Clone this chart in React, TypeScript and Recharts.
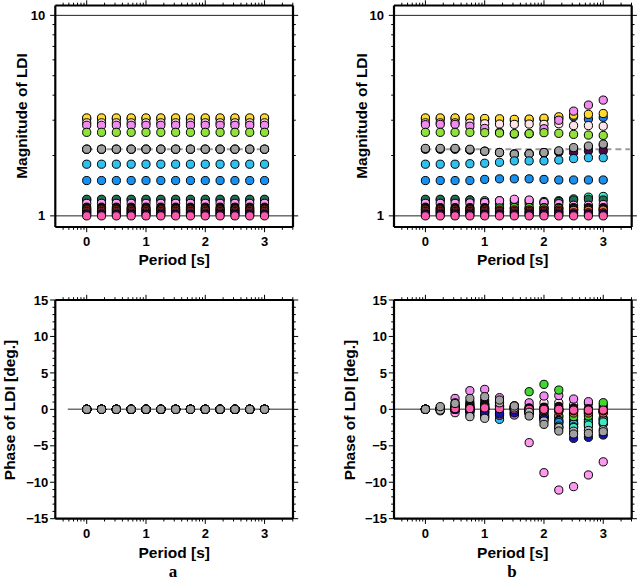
import React from 'react';
import { ScatterChart, Scatter, XAxis, YAxis, ReferenceLine } from 'recharts';

// ---------- data ----------
const periods = [0, 0.25, 0.5, 0.75, 1, 1.25, 1.5, 1.75, 2, 2.25, 2.5, 2.75, 3];

const xMajorTicks = [0, 1, 2, 3];
const xMinorTicks = [
  -0.398, -0.301, -0.222, -0.155, -0.097, -0.046,
  0.301, 0.477, 0.602, 0.699, 0.778, 0.845, 0.903, 0.954,
  1.301, 1.477, 1.602, 1.699, 1.778, 1.845, 1.903, 1.954,
  2.301, 2.477, 2.602, 2.699, 2.778, 2.845, 2.903, 2.954,
  3.301, 3.477,
];
const magMajorTicks = [1, 10];
const magMinorTicks = [2, 3, 4, 5, 6, 7, 8, 9];
const phaseMajorTicks = [-15, -10, -5, 0, 5, 10, 15];
const phaseMinorTicks = [
  -14, -13, -12, -11, -9, -8, -7, -6, -4, -3, -2, -1,
  1, 2, 3, 4, 6, 7, 8, 9, 11, 12, 13, 14,
];

const seriesKeys = [
  'blue2', 'yellow', 'mistyrose', 'violet', 'yellowgreen', 'silver', 'purple', 'gray',
  'deepskyblue', 'dodgerblue', 'aquamarine', 'teal', 'pink', 'black', 'green', 'red',
  'orange', 'crimson', 'navy', 'hotpink',
];
const seriesColors = [
  '#1C7CE8', '#FFD92E', '#FFE4EA', '#F08CF0', '#92E03C', '#B8B8B8', '#4A0A48', '#A0A0A0',
  '#30C0F0', '#1890F0', '#40E8C0', '#1E6E52', '#FF99F0', '#111111', '#40D830', '#E01020',
  '#FF6A30', '#E8204A', '#1414B0', '#FF5AAA',
];

// panel a: magnitude (constant for every period) and phase (zero)
const magnitudeA = [
  3.05, 3.08, 2.91, 2.83, 2.61, 2.15, 2.15, 2.15,
  1.81, 1.5, 1.2, 1.21, 1.155, 1.105, 1.08, 1.07,
  1.05, 1.035, 1.02, 1.0,
];
const phaseA = [0, 0, 0, 0, 0, 0, 0, 0, 0, 0, 0, 0, 0, 0, 0, 0, 0, 0, 0, 0];

// panel b: magnitude per series
const magB_blue2 = [3.05, 3.05, 3.05, 3.05, 3.03, 3.02, 3.0, 3.01, 3.04, 3.07, 3.12, 3.04, 3.1];
const magB_yellow = [3.08, 3.08, 3.08, 3.08, 3.06, 3.05, 3.03, 3.04, 3.07, 3.12, 3.18, 3.21, 3.24];
const magB_mistyrose = [2.91, 2.91, 2.91, 2.9, 2.88, 2.87, 2.86, 2.87, 2.86, 2.88, 2.82, 2.82, 2.8];
const magB_violet = [2.85, 2.86, 2.86, 2.8, 2.73, 2.61, 2.56, 2.57, 2.72, 3.0, 3.33, 3.57, 3.78];
const magB_yellowgreen = [2.61, 2.61, 2.61, 2.61, 2.6, 2.59, 2.57, 2.57, 2.6, 2.58, 2.55, 2.53, 2.52];
const magB_silver = [2.16, 2.16, 2.16, 2.14, 2.1, 2.07, 2.03, 2.04, 2.07, 2.1, 2.17, 2.2, 2.25];
const magB_purple = [2.15, 2.15, 2.15, 2.13, 2.1, 2.07, 2.04, 2.04, 2.06, 2.08, 2.07, 2.11, 2.11];
const magB_gray = [2.17, 2.17, 2.17, 2.15, 2.1, 2.07, 2.03, 2.04, 2.07, 2.11, 2.19, 2.23, 2.28];
const magB_deepskyblue = [1.81, 1.81, 1.81, 1.82, 1.83, 1.85, 1.88, 1.88, 1.88, 1.9, 1.93, 1.95, 1.95];
const magB_dodgerblue = [1.5, 1.5, 1.5, 1.5, 1.52, 1.53, 1.53, 1.53, 1.52, 1.51, 1.51, 1.51, 1.51];
const magB_aquamarine = [1.2, 1.2, 1.2, 1.2, 1.19, 1.19, 1.19, 1.19, 1.18, 1.19, 1.215, 1.24, 1.25];
const magB_teal = [1.21, 1.21, 1.21, 1.2, 1.17, 1.15, 1.15, 1.15, 1.16, 1.18, 1.2, 1.21, 1.2];
const magB_pink = [1.155, 1.155, 1.155, 1.16, 1.165, 1.19, 1.21, 1.2, 1.165, 1.15, 1.13, 1.13, 1.14];
const magB_black = [1.105, 1.1, 1.1, 1.1, 1.1, 1.09, 1.09, 1.09, 1.1, 1.1, 1.1, 1.1, 1.1];
const magB_green = [1.08, 1.08, 1.08, 1.08, 1.08, 1.095, 1.1, 1.1, 1.095, 1.09, 1.08, 1.08, 1.08];
const magB_red = [1.07, 1.07, 1.07, 1.07, 1.07, 1.07, 1.07, 1.07, 1.07, 1.07, 1.07, 1.07, 1.07];
const magB_orange = [1.05, 1.05, 1.05, 1.05, 1.05, 1.05, 1.05, 1.05, 1.05, 1.05, 1.065, 1.065, 1.07];
const magB_crimson = [1.035, 1.035, 1.035, 1.035, 1.035, 1.035, 1.035, 1.035, 1.035, 1.035, 1.035, 1.035, 1.035];
const magB_navy = [1.02, 1.02, 1.02, 1.02, 1.02, 1.02, 1.02, 1.02, 1.02, 1.02, 1.02, 1.02, 1.02];
const magB_hotpink = [1.0, 1.0, 1.0, 1.0, 1.0, 1.0, 1.0, 1.0, 1.0, 1.0, 1.0, 1.0, 1.0];

// panel b: phase per series
const phB_blue2 = [0, 0, 0.1, 0.2, 0.3, 0.2, 0.1, 0, -0.4, -1.0, -1.5, -1.4, -1.2];
const phB_yellow = [0, 0, 0, 0.1, 0.1, 0, 0, -0.3, -1.37, -1.83, -1.83, -1.6, -1.37];
const phB_mistyrose = [0, 0.1, 0.6, 0.7, 0.73, 0.46, 0.37, 0.37, 0.91, 0.91, 0.59, 0.82, -0.2];
const phB_violet = [0, 0.3, 1.5, 2.56, 2.74, 1.6, 0.5, 0.9, 1.83, 1.9, 1.42, 1.05, 0.6];
const phB_yellowgreen = [0, 0, 0.1, 0.1, 0.2, 0.2, 0.1, -0.3, -0.64, -0.91, -0.8, -0.6, -0.4];
const phB_silver = [0, -0.1, 0.9, -1.0, -1.23, 0.9, 0.2, -0.4, -1.6, -2.5, -3.0, -2.9, -2.8];
const phB_purple = [0, 0, 0.3, 0.5, 0.6, 0.5, 0.2, -0.2, -1.0, -1.5, -2.0, -2.0, -1.9];
const phB_gray = [0, 0.37, 0.8, 1.5, 1.74, 1.28, 0.46, -0.91, -2.06, -2.97, -3.38, -3.3, -3.07];
const phB_deepskyblue = [0, 0, -0.1, -0.4, -0.9, -1.37, -0.7, -0.5, -0.9, -1.6, -2.0, -1.8, -1.5];
const phB_dodgerblue = [0, 0, 0, -0.2, -0.5, -0.8, -0.5, -0.4, -1.0, -1.8, -2.4, -2.3, -2.0];
const phB_aquamarine = [0, 0, 0, -0.1, -0.3, -0.6, -0.4, -0.5, -1.1, -2.3, -2.5, -2.15, -1.74];
const phB_teal = [0, 0, 0.2, 0.4, 0.6, 0.5, 0.3, 0.2, 0.2, 0, -0.3, -0.4, -0.3];
const phB_pink = [0, -0.2, -0.46, -0.8, -1.0, -0.78, -0.78, -4.57, -8.69, -11.07, -10.6, -9.0, -7.2];
const phB_black = [0, 0.1, 0.4, 1.0, 1.2, 0.9, 0.3, 0.1, 0.3, 0.4, 0.2, 0.1, 0.2];
const phB_green = [0, 0, 0.1, 0.2, 0.3, 0.4, 0.3, 2.42, 3.43, 2.65, -1.0, -0.91, 0.91];
const phB_red = [0, 0, 0, 0, 0, 0, 0, 0, -0.1, -0.1, -0.2, -0.2, -0.2];
const phB_orange = [0, 0, 0, 0, 0, -0.1, -0.1, -0.1, -0.2, -0.3, -0.5, -0.5, -0.5];
const phB_crimson = [0, 0, 0, 0, 0, 0, 0, 0, 0, -0.1, -0.2, -0.2, -0.2];
const phB_navy = [0, 0, 0, -0.2, -0.5, -0.6, -0.5, -0.5, -1.3, -2.5, -3.98, -3.84, -3.52];
const phB_hotpink = [0, 0, 0.1, 0.1, 0.2, 0.1, 0, 0, 0, 0, -0.1, -0.1, -0.1];

const magnitudeB = [
  magB_blue2, magB_yellow, magB_mistyrose, magB_violet, magB_yellowgreen, magB_silver, magB_purple, magB_gray,
  magB_deepskyblue, magB_dodgerblue, magB_aquamarine, magB_teal, magB_pink, magB_black, magB_green, magB_red,
  magB_orange, magB_crimson, magB_navy, magB_hotpink,
];
const phaseB = [
  phB_blue2, phB_yellow, phB_mistyrose, phB_violet, phB_yellowgreen, phB_silver, phB_purple, phB_gray,
  phB_deepskyblue, phB_dodgerblue, phB_aquamarine, phB_teal, phB_pink, phB_black, phB_green, phB_red,
  phB_orange, phB_crimson, phB_navy, phB_hotpink,
];

// ---------- helpers ----------
const FONT = '"Liberation Sans", Arial, Helvetica, sans-serif';
const X_DOMAIN: [number, number] = [-0.53, 3.48];
const MAG_DOMAIN: [number, number] = [0.88, 11.2];
const PHASE_DOMAIN: [number, number] = [-15, 15];

const isIn = (v: number, arr: number[]) => arr.some((a) => Math.abs(a - v) < 1e-6);

const fmtNum = (v: number) => (v < 0 ? '\u2212' + Math.abs(v) : String(v));

const makeTick = (side: 'top' | 'bottom' | 'left' | 'right', majors: number[], showLabel: boolean, gap: number) =>
  (props: any) => {
    const { x, y, payload } = props;
    const v = payload.value;
    const major = isIn(v, majors);
    const len = major ? 5.2 : 2.8;
    let line: any = null;
    let label: any = null;
    if (side === 'bottom') {
      line = <line x1={x} y1={y} x2={x} y2={y + len} stroke="#000" strokeWidth={1} />;
      if (showLabel && major)
        label = (
          <text x={x} y={y + 19} textAnchor="middle" fontFamily={FONT} fontWeight="bold" fontSize={13} fill="#000">
            {fmtNum(v)}
          </text>
        );
    } else if (side === 'top') {
      line = <line x1={x} y1={y} x2={x} y2={y - len} stroke="#000" strokeWidth={1} />;
    } else if (side === 'left') {
      line = <line x1={x} y1={y} x2={x - len} y2={y} stroke="#000" strokeWidth={1} />;
      if (showLabel && major)
        label = (
          <text x={x - gap} y={y + 4.6} textAnchor="end" fontFamily={FONT} fontWeight="bold" fontSize={13} fill="#000">
            {fmtNum(v)}
          </text>
        );
    } else {
      line = <line x1={x} y1={y} x2={x + len} y2={y} stroke="#000" strokeWidth={1} />;
    }
    return (
      <g>
        {line}
        {label}
      </g>
    );
  };

const makeDot = (color: string) => (props: any) => {
  if (props.cx == null || props.cy == null) return <g />;
  return <circle cx={props.cx} cy={props.cy} r={4.1} fill={color} stroke="#000" strokeWidth={1} />;
};

const buildPoints = (values: number[]) => periods.map((p, i) => ({ x: p, y: values[i] }));

const allXTicks = [...xMajorTicks, ...xMinorTicks].sort((a, b) => a - b);
const allMagTicks = [...magMajorTicks, ...magMinorTicks].sort((a, b) => a - b);
const allPhaseTicks = [...phaseMajorTicks, ...phaseMinorTicks].sort((a, b) => a - b);

const magOrder = seriesKeys.map((_, i) => i);
const phaseOrder = [
  ...seriesKeys.map((_, i) => i).filter((i) => seriesKeys[i] !== 'gray' && seriesKeys[i] !== 'silver'),
  seriesKeys.indexOf('silver'),
  seriesKeys.indexOf('gray'),
];

type PanelProps = {
  left: number;
  top: number;
  width: number;
  height: number;
  plot: { top: number; right: number; bottom: number; left: number };
  kind: 'mag' | 'phase';
  panel: 'a' | 'b';
};

const AX = 1; // axis box thickness (must be > 0 for recharts to draw the axis)

const Panel = ({ left, top, width, height, plot, kind, panel }: PanelProps) => {
  const isMag = kind === 'mag';
  const yDomain = isMag ? MAG_DOMAIN : PHASE_DOMAIN;
  const yTicks = isMag ? allMagTicks : allPhaseTicks;
  const yMajors = isMag ? magMajorTicks : phaseMajorTicks;
  const yScale = isMag ? 'log' : 'linear';
  const order = isMag ? magOrder : phaseOrder;
  const gap = isMag ? 10 : 7;
  const margin = {
    top: plot.top - AX,
    right: plot.right - AX,
    bottom: plot.bottom - AX,
    left: plot.left - AX,
  };
  const axisLine = { stroke: '#000', strokeWidth: 2.2 };
  return (
    <div style={{ position: 'absolute', left, top, width, height }}>
      <ScatterChart width={width} height={height} margin={margin}>
        <XAxis
          xAxisId="b"
          dataKey="x"
          type="number"
          orientation="bottom"
          domain={X_DOMAIN}
          allowDataOverflow
          ticks={allXTicks}
          interval={0}
          height={AX}
          tickSize={0}
          tickMargin={0}
          tickLine={false}
          axisLine={axisLine}
          tick={makeTick('bottom', xMajorTicks, true, 0)}
        />
        <XAxis
          xAxisId="t"
          dataKey="x"
          type="number"
          orientation="top"
          domain={X_DOMAIN}
          allowDataOverflow
          ticks={allXTicks}
          interval={0}
          height={AX}
          tickSize={0}
          tickMargin={0}
          tickLine={false}
          axisLine={axisLine}
          tick={makeTick('top', xMajorTicks, false, 0)}
        />
        <YAxis
          yAxisId="l"
          dataKey="y"
          type="number"
          orientation="left"
          scale={yScale as any}
          domain={yDomain}
          allowDataOverflow
          ticks={yTicks}
          interval={0}
          width={AX}
          tickSize={0}
          tickMargin={0}
          tickLine={false}
          axisLine={axisLine}
          tick={makeTick('left', yMajors, true, gap)}
        />
        <YAxis
          yAxisId="r"
          dataKey="y"
          type="number"
          orientation="right"
          scale={yScale as any}
          domain={yDomain}
          allowDataOverflow
          ticks={yTicks}
          interval={0}
          width={AX}
          tickSize={0}
          tickMargin={0}
          tickLine={false}
          axisLine={axisLine}
          tick={makeTick('right', yMajors, false, 0)}
        />
        {isMag && <ReferenceLine xAxisId="b" yAxisId="l" y={1} stroke="#222" strokeWidth={1} />}
        {isMag && <ReferenceLine xAxisId="b" yAxisId="l" y={10} stroke="#222" strokeWidth={1} />}
        {isMag && (
          <ReferenceLine
            xAxisId="b"
            yAxisId="l"
            segment={panel === 'a' ? [{ x: 0, y: 2.15 }, { x: 3, y: 2.15 }] : [{ x: 0, y: 2.15 }, { x: 3.45, y: 2.15 }]}
            stroke="#9a9a9a"
            strokeWidth={2}
            strokeDasharray="6 4"
          />
        )}
        {!isMag && (
          <ReferenceLine
            xAxisId="b"
            yAxisId="l"
            segment={panel === 'a' ? [{ x: -0.32, y: 0 }, { x: 3.48, y: 0 }] : [{ x: -0.53, y: 0 }, { x: 3.48, y: 0 }]}
            stroke="#707070"
            strokeWidth={1.5}
          />
        )}
        {order.map((i) => {
          let values: number[];
          if (isMag) values = panel === 'a' ? periods.map(() => magnitudeA[i]) : magnitudeB[i];
          else values = panel === 'a' ? periods.map(() => phaseA[i]) : phaseB[i];
          return (
            <Scatter
              key={seriesKeys[i]}
              name={seriesKeys[i]}
              xAxisId="b"
              yAxisId="l"
              data={buildPoints(values)}
              isAnimationActive={false}
              shape={makeDot(seriesColors[i])}
            />
          );
        })}
      </ScatterChart>
    </div>
  );
};

const titleStyle: any = { fontFamily: FONT, fontWeight: 'bold', fontSize: 15.5, fill: '#000' };
const letterStyle: any = { fontFamily: '"Liberation Serif", "Times New Roman", serif', fontWeight: 'bold', fontSize: 17, fill: '#000' };

export default function App() {
  return (
    <div style={{ position: 'absolute', left: 0, top: 0, width: 638, height: 580, background: '#fff', overflow: 'hidden' }}>
      <Panel left={0} top={0} width={320} height={290} plot={{ top: 5.5, right: 27, bottom: 63, left: 55.3 }} kind="mag" panel="a" />
      <Panel left={320} top={0} width={318} height={290} plot={{ top: 5.5, right: 6.3, bottom: 63, left: 74 }} kind="mag" panel="b" />
      <Panel left={0} top={290} width={320} height={290} plot={{ top: 10, right: 27, bottom: 61.3, left: 55.3 }} kind="phase" panel="a" />
      <Panel left={320} top={290} width={318} height={290} plot={{ top: 10, right: 6.3, bottom: 61.3, left: 74 }} kind="phase" panel="b" />
      <svg width={638} height={580} style={{ position: 'absolute', left: 0, top: 0, pointerEvents: 'none' }}>
        <text x={21.5} y={116} transform="rotate(-90 21.5 116)" textAnchor="middle" dominantBaseline="central" style={titleStyle}>
          Magnitude of LDI
        </text>
        <text x={361.5} y={116} transform="rotate(-90 361.5 116)" textAnchor="middle" dominantBaseline="central" style={titleStyle}>
          Magnitude of LDI
        </text>
        <text x={9.5} y={410} transform="rotate(-90 9.5 410)" textAnchor="middle" dominantBaseline="central" style={titleStyle}>
          Phase of LDI [deg.]
        </text>
        <text x={349.5} y={410} transform="rotate(-90 349.5 410)" textAnchor="middle" dominantBaseline="central" style={titleStyle}>
          Phase of LDI [deg.]
        </text>
        <text x={174.2} y={265} textAnchor="middle" style={titleStyle}>Period [s]</text>
        <text x={512.8} y={265} textAnchor="middle" style={titleStyle}>Period [s]</text>
        <text x={174.2} y={558} textAnchor="middle" style={titleStyle}>Period [s]</text>
        <text x={512.8} y={558} textAnchor="middle" style={titleStyle}>Period [s]</text>
        <text x={173} y={577} textAnchor="middle" style={letterStyle}>a</text>
        <text x={512} y={577} textAnchor="middle" style={letterStyle}>b</text>
      </svg>
    </div>
  );
}
